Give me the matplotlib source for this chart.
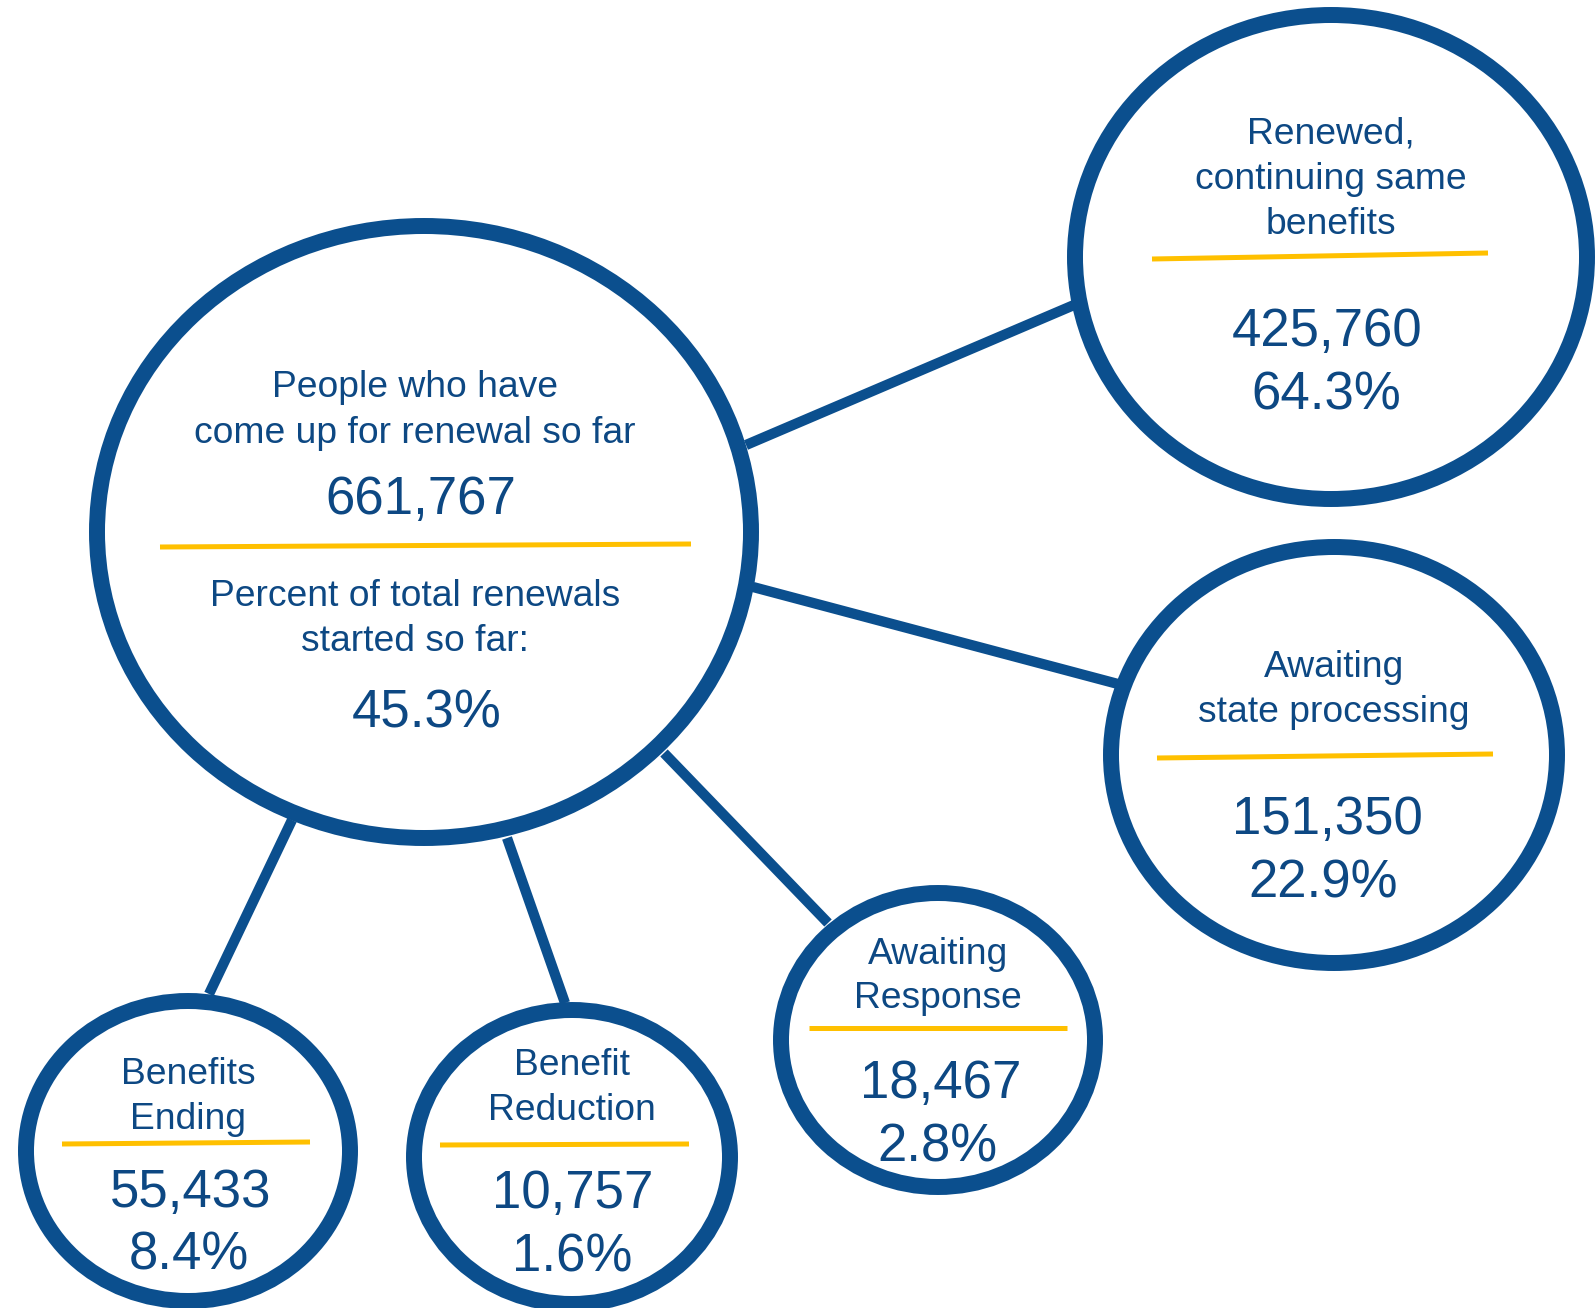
import matplotlib
matplotlib.use("Agg")
import matplotlib.pyplot as plt
from matplotlib.patches import Ellipse

# ---- data ----
total_label = ["People who have", "come up for renewal so far"]
total_count = "661,767"
pct_label = ["Percent of total renewals", "started so far:"]
pct_started = "45.3%"

categories = [
    ["Renewed,", "continuing same", "benefits"],
    ["Awaiting", "state processing"],
    ["Awaiting", "Response"],
    ["Benefit", "Reduction"],
    ["Benefits", "Ending"],
]
counts = ["425,760", "151,350", "18,467", "10,757", "55,433"]
percents = ["64.3%", "22.9%", "2.8%", "1.6%", "8.4%"]

# ---- layout (pixel coordinates, y downward) ----
W, H = 1596, 1308
BLUE = "#0B4F8E"
TEXT = "#0D4883"
YELLOW = "#FFC000"
FONT = "Liberation Sans"

main_c = (424, 532)
main_r = (327, 306)
main_yellow = ((160, 547), (691, 544))
main_label_base = [397, 443]
main_count_base = 514
main_pct_label_base = [606, 651]
main_pct_base = 727

nodes_c = [(1331, 257), (1334, 755), (938, 1040), (572, 1157), (188, 1151)]
nodes_r = [(256, 242), (223, 208), (157, 147), (158, 147), (162, 150)]
nodes_label_base = [[144, 189, 234], [677, 722], [964, 1008], [1075, 1120], [1084, 1129]]
nodes_count_base = [346, 834, 1098, 1208, 1207]
nodes_pct_base = [410, 897, 1162, 1271, 1270]
nodes_count_dx = [-4, -7, 3, 1, 3]
nodes_pct_dx = [-5, -11, -1, 0, 1]
nodes_yellow = [((1152, 259), (1488, 253)), ((1157, 758), (1493, 754)),
                ((809, 1028), (1067, 1028)), ((440, 1145), (689, 1144)),
                ((62, 1144), (310, 1142))]
connectors = [((746, 445), (1074, 305)), ((753, 587), (1118, 684)),
              ((664, 753), (828, 923)), ((507, 838), (565, 1003)),
              ((292, 820), (209, 994))]

LABEL_FS = 26.8
NUM_FS = 38

fig = plt.figure(figsize=(W / 100, H / 100), dpi=100)
ax = fig.add_axes([0, 0, 1, 1])
ax.set_xlim(0, W)
ax.set_ylim(H, 0)
ax.set_aspect("equal")
ax.axis("off")

for (p0, p1) in connectors:
    ax.plot([p0[0], p1[0]], [p0[1], p1[1]], color=BLUE, lw=7.4,
            solid_capstyle="butt", zorder=1)

def circle(c, r):
    ax.add_patch(Ellipse(c, 2 * r[0], 2 * r[1], facecolor="white",
                         edgecolor=BLUE, lw=11.5, zorder=2))

def yline(seg):
    (x0, y0), (x1, y1) = seg
    ax.plot([x0, x1], [y0, y1], color=YELLOW, lw=3.6,
            solid_capstyle="butt", zorder=3)

def txt(x, y, s, fs):
    ax.text(x, y, s, ha="center", va="baseline", fontsize=fs,
            color=TEXT, family=FONT, zorder=4)

# main circle
circle(main_c, main_r)
yline(main_yellow)
for s, b in zip(total_label, main_label_base):
    txt(main_c[0] - 9, b, s, LABEL_FS)
txt(main_c[0] - 3, main_count_base, total_count, NUM_FS)
for s, b in zip(pct_label, main_pct_label_base):
    txt(main_c[0] - 9, b, s, LABEL_FS)
txt(main_c[0] + 3, main_pct_base, pct_started, NUM_FS)

# child circles
for i in range(len(categories)):
    c = nodes_c[i]
    circle(c, nodes_r[i])
    yline(nodes_yellow[i])
    for s, b in zip(categories[i], nodes_label_base[i]):
        txt(c[0], b, s, LABEL_FS)
    txt(c[0] + nodes_count_dx[i], nodes_count_base[i], counts[i], NUM_FS)
    txt(c[0] + nodes_pct_dx[i], nodes_pct_base[i], percents[i], NUM_FS)

fig.savefig("out.png", dpi=100, facecolor="white")
